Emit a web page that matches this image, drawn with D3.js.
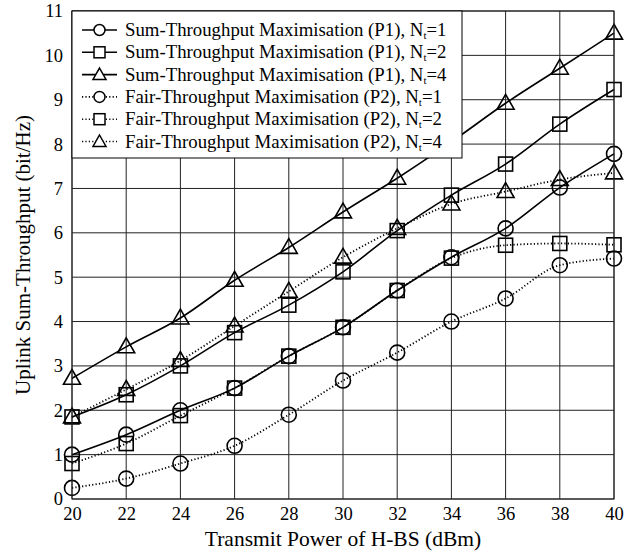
<!DOCTYPE html>
<html>
<head>
<meta charset="utf-8">
<script src="https://cdn.jsdelivr.net/npm/d3@7"></script>
<style>
  body { margin: 0; background: #fff; }
  text { font-family: "Liberation Serif", "Times New Roman", serif; }
</style>
</head>
<body>
<div id="chart"></div>
<script>
// Transmit power (dBm)
const powers = [20, 22, 24, 26, 28, 30, 32, 34, 36, 38, 40];

// Sum-throughput maximisation (P1)
const p1Nt1 = [1.0, 1.45, 2.0, 2.5, 3.22, 3.87, 4.7, 5.45, 6.1, 7.02, 7.78];
const p1Nt2 = [1.85, 2.35, 3.0, 3.75, 4.37, 5.12, 6.05, 6.85, 7.55, 8.45, 9.23];
const p1Nt4 = [2.72, 3.43, 4.08, 4.93, 5.67, 6.47, 7.23, 8.05, 8.92, 9.71, 10.5];

// Fair-throughput maximisation (P2)
const p2Nt1 = [0.25, 0.46, 0.8, 1.2, 1.9, 2.67, 3.3, 4.0, 4.52, 5.27, 5.42];
const p2Nt2 = [0.8, 1.25, 1.88, 2.5, 3.22, 3.87, 4.7, 5.43, 5.72, 5.76, 5.73];
const p2Nt4 = [1.85, 2.47, 3.12, 3.9, 4.68, 5.45, 6.1, 6.65, 6.93, 7.2, 7.35];

const xTicks = [20, 22, 24, 26, 28, 30, 32, 34, 36, 38, 40];
const yTicks = [0, 1, 2, 3, 4, 5, 6, 7, 8, 9, 10, 11];

const series = [
  { name: "Sum-Throughput Maximisation (P1), N", nt: "1", values: p1Nt1, marker: "circle", dotted: false },
  { name: "Sum-Throughput Maximisation (P1), N", nt: "2", values: p1Nt2, marker: "square", dotted: false },
  { name: "Sum-Throughput Maximisation (P1), N", nt: "4", values: p1Nt4, marker: "triangle", dotted: false },
  { name: "Fair-Throughput Maximisation (P2), N", nt: "1", values: p2Nt1, marker: "circle", dotted: true },
  { name: "Fair-Throughput Maximisation (P2), N", nt: "2", values: p2Nt2, marker: "square", dotted: true },
  { name: "Fair-Throughput Maximisation (P2), N", nt: "4", values: p2Nt4, marker: "triangle", dotted: true },
];

const W = 634, H = 555;
const margin = { left: 72, right: 20, top: 11, bottom: 56 };

const svg = d3.select("#chart").append("svg")
  .attr("width", W).attr("height", H);

const x = d3.scaleLinear().domain([20, 40]).range([margin.left, W - margin.right]);
const y = d3.scaleLinear().domain([0, 11]).range([H - margin.bottom, margin.top]);

// ── grid ──
const grid = svg.append("g").attr("class", "grid");
grid.selectAll("line.v").data(xTicks).join("line")
  .attr("x1", d => x(d)).attr("x2", d => x(d))
  .attr("y1", y(0)).attr("y2", y(11))
  .attr("stroke", "#222").attr("stroke-width", 1);
grid.selectAll("line.h").data(yTicks).join("line")
  .attr("x1", x(20)).attr("x2", x(40))
  .attr("y1", d => y(d)).attr("y2", d => y(d))
  .attr("stroke", "#222").attr("stroke-width", 1);

// ── axes (labels only, frame drawn separately) ──
const xAxis = svg.append("g")
  .attr("transform", `translate(0,${y(0)})`)
  .call(d3.axisBottom(x).tickValues(xTicks).tickSize(0).tickPadding(8));
xAxis.select(".domain").remove();
xAxis.selectAll("text").attr("font-size", 18.5).attr("fill", "#000")
  .style("font-family", "Liberation Serif");

const yAxis = svg.append("g")
  .attr("transform", `translate(${x(20)},0)`)
  .call(d3.axisLeft(y).tickValues(yTicks).tickSize(0).tickPadding(9));
yAxis.select(".domain").remove();
yAxis.selectAll("text").attr("font-size", 18.5).attr("fill", "#000")
  .style("font-family", "Liberation Serif");

// ── markers ──
function drawMarker(g, type, cx, cy) {
  if (type === "circle") {
    g.append("circle").attr("cx", cx).attr("cy", cy).attr("r", 7.5)
      .attr("fill", "none").attr("stroke", "#000").attr("stroke-width", 1.6);
  } else if (type === "square") {
    g.append("rect").attr("x", cx - 7).attr("y", cy - 7)
      .attr("width", 14).attr("height", 14)
      .attr("fill", "none").attr("stroke", "#000").attr("stroke-width", 1.6);
  } else {
    const s = 8.5;
    g.append("path")
      .attr("d", `M${cx},${cy - s * 1.05}L${cx + s},${cy + s * 0.7}L${cx - s},${cy + s * 0.7}Z`)
      .attr("fill", "none").attr("stroke", "#000").attr("stroke-width", 1.6);
  }
}

const line = d3.line()
  .x((d, i) => x(powers[i]))
  .y(d => y(d))
  .curve(d3.curveMonotoneX);

const plot = svg.append("g");
for (const s of series) {
  plot.append("path")
    .attr("d", line(s.values))
    .attr("fill", "none")
    .attr("stroke", "#000")
    .attr("stroke-width", s.dotted ? 1.8 : 1.6)
    .attr("stroke-dasharray", s.dotted ? "1.2,2.2" : null);
  s.values.forEach((v, i) => drawMarker(plot, s.marker, x(powers[i]), y(v)));
}

// ── frame ──
svg.append("rect")
  .attr("x", x(20)).attr("y", y(11))
  .attr("width", x(40) - x(20)).attr("height", y(0) - y(11))
  .attr("fill", "none").attr("stroke", "#222").attr("stroke-width", 1);

// ── legend ──
const lg = svg.append("g");
const lgX = x(20), lgY = y(11), lgW = 390, lgH = 147, rowH = 22.3;
lg.append("rect")
  .attr("x", lgX).attr("y", lgY).attr("width", lgW).attr("height", lgH)
  .attr("fill", "#fff").attr("stroke", "#000").attr("stroke-width", 1);
series.forEach((s, i) => {
  const cy = lgY + 19 + i * rowH;
  const row = lg.append("g");
  row.append("line")
    .attr("x1", lgX + 10).attr("x2", lgX + 45)
    .attr("y1", cy).attr("y2", cy)
    .attr("stroke", "#000").attr("stroke-width", 1.6)
    .attr("stroke-dasharray", s.dotted ? "1.2,2.2" : null);
  const mk = row.append("g");
  if (s.marker === "circle") {
    mk.append("circle").attr("cx", lgX + 27.5).attr("cy", cy).attr("r", 5.5)
      .attr("fill", "#fff").attr("stroke", "#000").attr("stroke-width", 1.5);
  } else if (s.marker === "square") {
    mk.append("rect").attr("x", lgX + 22).attr("y", cy - 5.5)
      .attr("width", 11).attr("height", 11)
      .attr("fill", "#fff").attr("stroke", "#000").attr("stroke-width", 1.5);
  } else {
    const cx = lgX + 27.5, t = 6.5;
    mk.append("path")
      .attr("d", `M${cx},${cy - t}L${cx + t},${cy + t * 0.75}L${cx - t},${cy + t * 0.75}Z`)
      .attr("fill", "#fff").attr("stroke", "#000").attr("stroke-width", 1.5);
  }
  const t = row.append("text")
    .attr("x", lgX + 53).attr("y", cy + 6)
    .attr("font-size", 18.8).attr("fill", "#000");
  t.append("tspan").text(s.name);
  t.append("tspan").attr("font-size", 11).attr("dy", 3).text("t");
  t.append("tspan").attr("dy", -3).text("=" + s.nt);
});

// ── axis titles ──
svg.append("text")
  .attr("x", (x(20) + x(40)) / 2).attr("y", 546)
  .attr("text-anchor", "middle").attr("font-size", 21.5)
  .text("Transmit Power of H-BS (dBm)");
svg.append("text")
  .attr("transform", `translate(30,${(y(0) + y(11)) / 2}) rotate(-90)`)
  .attr("text-anchor", "middle").attr("font-size", 21)
  .text("Uplink Sum-Throughput (bit/Hz)");
</script>
</body>
</html>
